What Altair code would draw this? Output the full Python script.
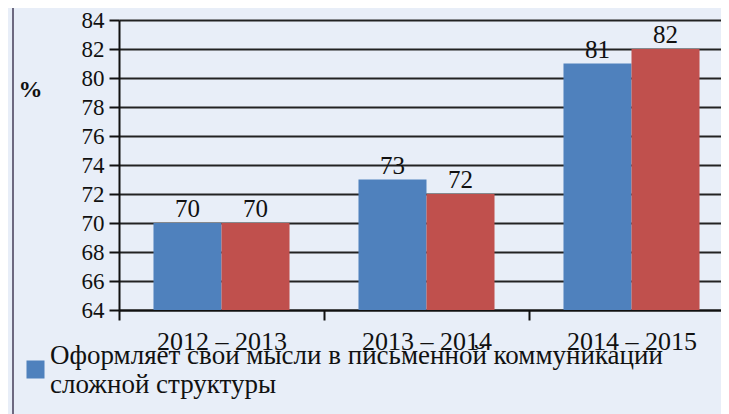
import altair as alt
import pandas as pd

years = ["2012 – 2013", "2013 – 2014", "2014 – 2015"]
series_names = ["Оформляет свои мысли в письменной коммуникации\nсложной структуры", " "]
blue_values = [70, 73, 81]
red_values = [70, 72, 82]
colors = ["#4F81BD", "#C0504D"]
y_ticks = list(range(64, 85, 2))

rows = []
for i, yr in enumerate(years):
    rows.append({"year": yr, "series": series_names[0], "value": blue_values[i]})
    rows.append({"year": yr, "series": series_names[1], "value": red_values[i]})
df = pd.DataFrame(rows)

FONT = "'Liberation Serif', 'Times New Roman', 'DejaVu Serif', serif"
INK = "#111111"

x = alt.X(
    "year:N", sort=years, title=None,
    scale=alt.Scale(paddingInner=0, paddingOuter=0, range=[0, 615]),
    axis=alt.Axis(labelAngle=0, tickBand="extent", labelFontSize=26,
                  labelColor=INK, labelPadding=8, tickSize=10, tickWidth=2,
                  tickColor=INK, domainColor=INK, domainWidth=2),
)
y = alt.Y(
    "value:Q",
    scale=alt.Scale(domain=[64, 84], nice=False, zero=False),
    axis=alt.Axis(values=y_ticks, title="%", titleAngle=0, titleX=-89, titleY=69,
                  titleFontSize=24, titleFontWeight="bold",
                  titleAlign="center", titleBaseline="middle", titleColor=INK,
                  labelFontSize=23, labelPadding=5, labelColor=INK,
                  tickSize=10, tickWidth=2, tickColor=INK,
                  domainColor=INK, domainWidth=2,
                  grid=True, gridColor="#222222", gridWidth=2),
)
xoff = alt.XOffset("series:N", sort=series_names,
                   scale=alt.Scale(paddingOuter=0.507, paddingInner=0))

bars = alt.Chart(df).mark_bar(clip=True).encode(
    x=x, y=y, xOffset=xoff,
    color=alt.Color(
        "series:N",
        scale=alt.Scale(domain=series_names, range=colors),
        legend=alt.Legend(
            orient="none", legendX=-97, legendY=336, title=None, direction="vertical",
            symbolType="square", symbolSize=324, symbolStrokeWidth=0,
            labelFontSize=27, labelColor=INK, labelLimit=800, labelBaseline="bottom",
            labelOffset=1, labelExpr="split(datum.label, '\\n')", padding=0,
            rowPadding=2,
        ),
    ),
)

labels = alt.Chart(df).mark_text(
    baseline="alphabetic", dy=-6, fontSize=25, font=FONT, color=INK
).encode(x=x, y=y, xOffset=xoff, text="value:Q")

frame = alt.Chart(df).mark_rule(color="#6e6a80", strokeWidth=1.5).encode(
    x=alt.value(-106), y=alt.value(-20), y2=alt.value(420)
)

chart = alt.layer(frame, bars, labels).properties(
    width=602, height=290, autosize="none",
    padding={"left": 111, "top": 12, "right": 0, "bottom": 104},
    background="#E8EEF8",
).configure(font=FONT).configure_axis(
    labelFont=FONT, titleFont=FONT
).configure_legend(
    labelFont=FONT, titleFont=FONT
).configure_text(font=FONT).configure_view(stroke=None)

chart.save("out.html", embed_options={"renderer": "svg", "actions": False})
